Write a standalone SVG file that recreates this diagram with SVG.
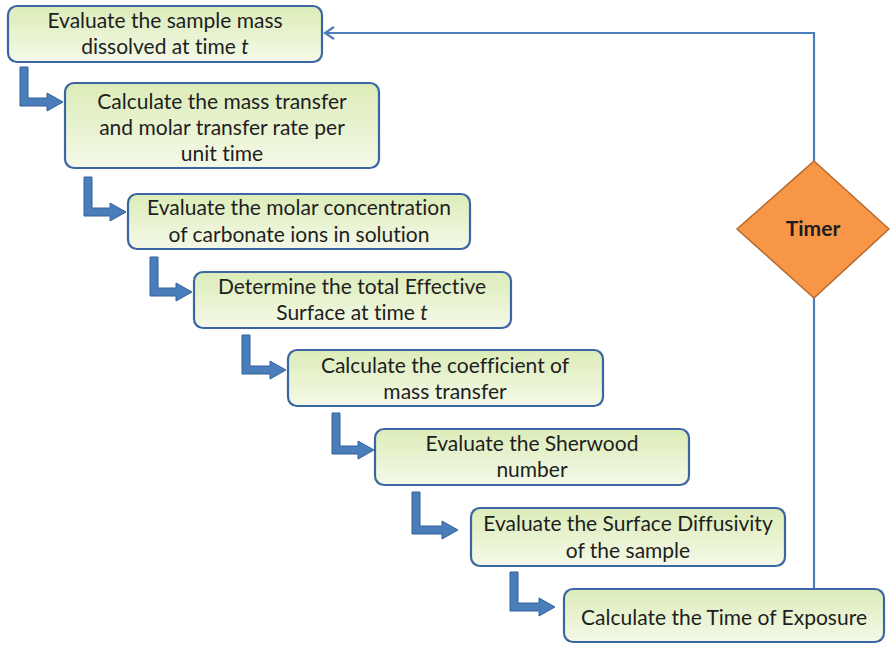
<svg xmlns="http://www.w3.org/2000/svg" width="890" height="645" viewBox="0 0 890 645">
<defs>
<linearGradient id="g" x1="0" y1="0" x2="0" y2="1">
<stop offset="0" stop-color="#dcecb8"/>
<stop offset="1" stop-color="#f4f9e8"/>
</linearGradient>
</defs>
<style>
.box{fill:url(#g);stroke:#3c66a3;stroke-width:2.2}
.t{font-family:Lato,"Open Sans","Liberation Sans",sans-serif;font-size:21px;fill:#1e1e1e;text-anchor:middle;font-variant-ligatures:none}
.el{fill:#4a7ebb;stroke:#34619b;stroke-width:1}
.fb{fill:none;stroke:#4a7ebb;stroke-width:2.2}
</style>
<g id="connectors">
<path class="fb" d="M814,588 V298 M814,161 V33 H325"/>
<path class="fb" d="M334,27 L325,33 L334,39"/>
<path class="el" d="M20,67 H28 V98 H47 V93 L63,102 L47,111 V106 H20 Z"/>
<path class="el" d="M84,177 H92 V208 H110 V203 L126,212 L110,221 V216 H84 Z"/>
<path class="el" d="M150,257 H158 V288 H176 V283 L192,292 L176,301 V296 H150 Z"/>
<path class="el" d="M242,335 H250 V366 H270 V361 L286,370 L270,379 V374 H242 Z"/>
<path class="el" d="M332,413 H340 V446 H358 V441 L374,450 L358,459 V454 H332 Z"/>
<path class="el" d="M412,492 H420 V526 H442 V521 L458,530 L442,539 V534 H412 Z"/>
<path class="el" d="M510,572 H518 V603 H539 V598 L555,607 L539,616 V611 H510 Z"/>
</g>
<g id="n1"><rect class="box" x="8" y="6" width="314" height="56" rx="9"/>
<text class="t" x="165" y="28">Evaluate the sample mass</text>
<text class="t" x="165" y="54">dissolved at time <tspan font-style="italic">t</tspan></text></g>
<g id="n2"><rect class="box" x="65" y="83" width="314" height="85" rx="9"/>
<text class="t" x="222" y="109">Calculate the mass transfer</text>
<text class="t" x="222" y="135">and molar transfer rate per</text>
<text class="t" x="222" y="161">unit time</text></g>
<g id="n3"><rect class="box" x="128" y="194" width="342" height="55" rx="9"/>
<text class="t" x="299" y="215">Evaluate the molar concentration</text>
<text class="t" x="299" y="242">of  carbonate ions in solution</text></g>
<g id="n4"><rect class="box" x="194" y="272" width="317" height="56" rx="9"/>
<text class="t" x="352" y="294">Determine the total Effective</text>
<text class="t" x="352" y="320">Surface at time <tspan font-style="italic">t</tspan></text></g>
<g id="n5"><rect class="box" x="288" y="350" width="315" height="56" rx="9"/>
<text class="t" x="445" y="373">Calculate the coefficient of</text>
<text class="t" x="445" y="399">mass transfer</text></g>
<g id="n6"><rect class="box" x="375" y="429" width="314" height="56" rx="9"/>
<text class="t" x="532" y="451">Evaluate the Sherwood</text>
<text class="t" x="532" y="477">number</text></g>
<g id="n7"><rect class="box" x="471" y="508" width="314" height="58" rx="9"/>
<text class="t" x="628" y="531">Evaluate the Surface Diffusivity</text>
<text class="t" x="628" y="558">of the sample</text></g>
<g id="n8"><rect class="box" x="564" y="589" width="320" height="53" rx="9"/>
<text class="t" x="724" y="625">Calculate the Time of Exposure</text></g>
<g id="timer"><path d="M814,161 L889,229 L814,298 L737,229 Z" fill="#f79646" stroke="#b5692c" stroke-width="1.5"/>
<text class="t" x="813" y="236" font-weight="bold" font-size="20">Timer</text></g>
</svg>
